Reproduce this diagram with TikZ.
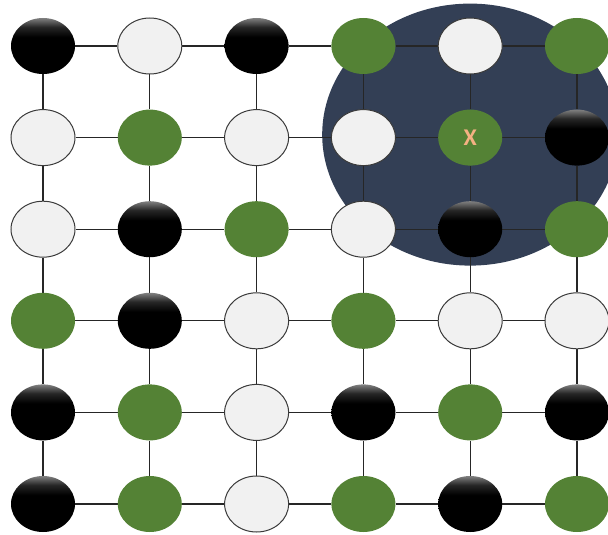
\documentclass[tikz,border=0pt]{standalone}
\usepackage{fontspec}
\usetikzlibrary{shapes.geometric}
\newfontfamily\xfont{Carlito}
\definecolor{navy}{HTML}{333F55}
\definecolor{stonegreen}{HTML}{548235}
\definecolor{stonewhite}{HTML}{F1F1F1}
\definecolor{stoneline}{HTML}{3A3A3A}
\definecolor{xorange}{HTML}{F4B183}
\pgfdeclareverticalshading{stoneshade}{100bp}{color(0bp)=(black); color(58bp)=(black); color(67bp)=(black!85); color(75bp)=(black!50); color(100bp)=(black!50)}
\pgfdeclarelayer{bg}
\pgfdeclarelayer{edges}
\pgfsetlayers{bg,edges,main}
\begin{document}
\begin{tikzpicture}[x=1pt,y=-1pt,
  stone/.style={ellipse,minimum width=64pt,minimum height=56pt,inner sep=0pt},
  blk/.style={stone,shading=stoneshade},
  wht/.style={stone,fill=stonewhite,draw=stoneline,line width=1pt},
  grn/.style={stone,fill=stonegreen},
  edge/.style={draw=black!85,line width=1.1pt},
  xlab/.style={text=xorange,font=\xfont\bfseries\fontsize{24}{24}\selectfont,inner sep=0pt}]
\useasboundingbox (0,0) rectangle (608,535);
\foreach \row [count=\r] in {{blk,wht,blk,grn,wht,grn},{wht,grn,wht,wht,grn,blk},{wht,blk,grn,wht,blk,grn},{grn,blk,wht,grn,wht,wht},{blk,grn,wht,blk,grn,blk},{blk,grn,wht,grn,blk,grn}}{
  \foreach \t [count=\c] in \row {
    \node[\t] (n-\r-\c) at ({43+(\c-1)*106.8},{46+(\r-1)*91.6}) {};
  }
}
\node[xlab] (xl) at (n-2-5) {X};
\begin{pgfonlayer}{bg}
  \clip (0,0) rectangle (608,535);
  \fill[navy] (n-2-5.center) ++(0,-3) ellipse [x radius=148, y radius=131];
\end{pgfonlayer}
\begin{pgfonlayer}{edges}
  \foreach \r in {1,...,6}{
    \foreach \c [evaluate=\c as \cn using int(\c+1)] in {1,...,5}{
      \draw[edge] (n-\r-\c) -- (n-\r-\cn);
      \draw[edge] (n-\c-\r) -- (n-\cn-\r);
    }
  }
\end{pgfonlayer}
\end{tikzpicture}
\end{document}
